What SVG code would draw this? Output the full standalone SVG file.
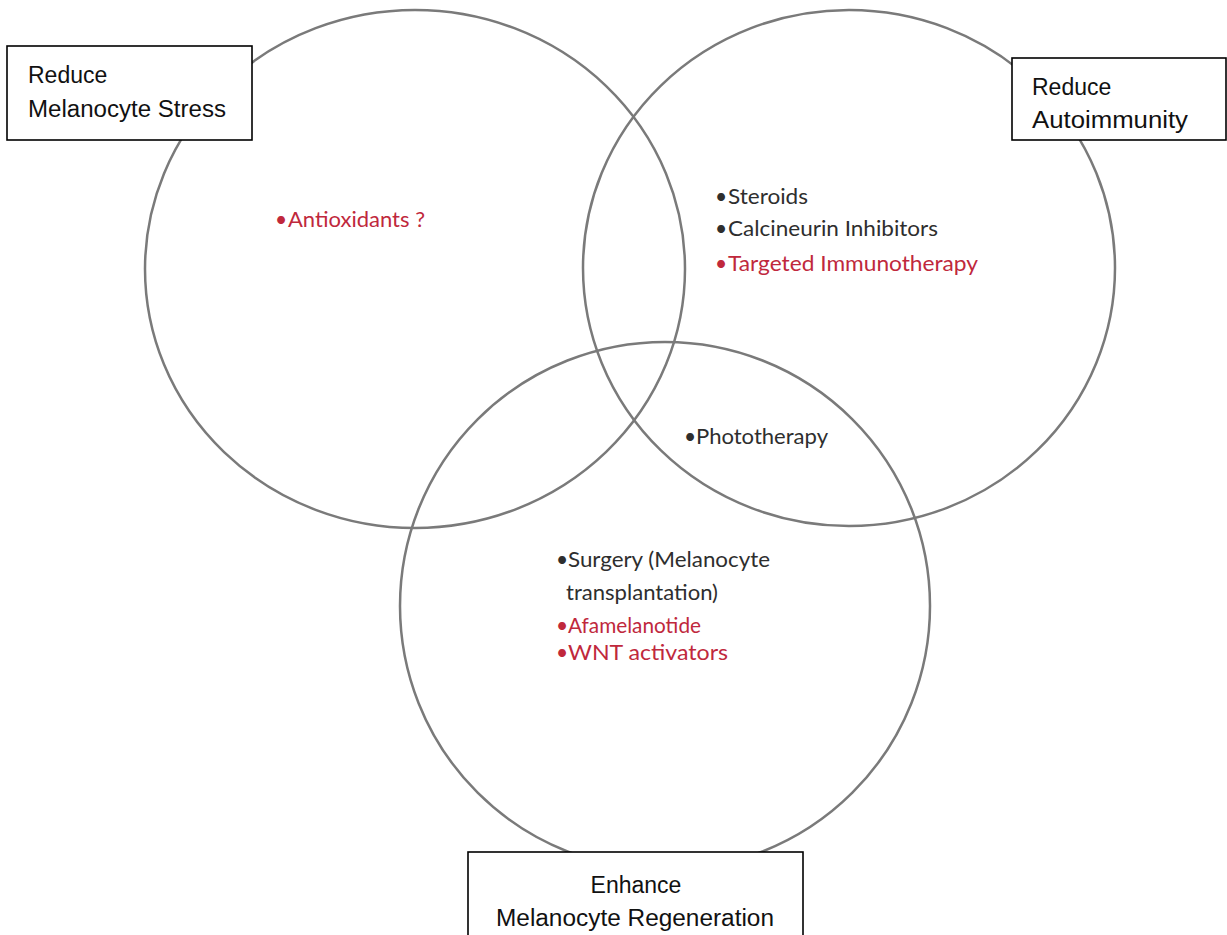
<svg xmlns="http://www.w3.org/2000/svg" width="1227" height="935" viewBox="0 0 1227 935">
<style>
.circ{fill:none;stroke:#7a7a7a;stroke-width:2.5}
.box{fill:#fff;stroke:#000;stroke-width:1.6}
.lbl{font-family:"Liberation Sans",Arial,sans-serif;font-size:23px;fill:#111}
.item{font-family:Lato,"Open Sans",sans-serif;font-size:21px}
.dk{fill:#2e2e2e}
.rd{fill:#c0283c}
</style>
<rect width="1227" height="935" fill="#fff"/>
<g id="connectors"/>
<g id="circle-stress"><ellipse class="circ" cx="415" cy="269" rx="270" ry="259"/></g>
<g id="circle-autoimmunity"><ellipse class="circ" cx="849" cy="268" rx="266" ry="258"/></g>
<g id="circle-regeneration"><ellipse class="circ" cx="665" cy="606" rx="265" ry="264"/></g>
<g id="label-stress">
<rect class="box" x="7" y="46" width="245" height="94"/>
<text class="lbl" x="28" y="83">Reduce</text>
<text class="lbl" x="28" y="117" textLength="198" lengthAdjust="spacingAndGlyphs">Melanocyte Stress</text>
</g>
<g id="label-autoimmunity">
<rect class="box" x="1012" y="58" width="214" height="82"/>
<text class="lbl" x="1032" y="95">Reduce</text>
<text class="lbl" x="1032" y="128" textLength="156" lengthAdjust="spacingAndGlyphs">Autoimmunity</text>
</g>
<g id="label-regeneration">
<rect class="box" x="468" y="852" width="335" height="95"/>
<text class="lbl" x="636" y="893" text-anchor="middle">Enhance</text>
<text class="lbl" x="635" y="926" text-anchor="middle" textLength="278" lengthAdjust="spacingAndGlyphs">Melanocyte Regeneration</text>
</g>
<g id="items-stress">
<text class="item rd" x="275" y="227">•</text>
<text class="item rd" x="288" y="227" textLength="137" lengthAdjust="spacingAndGlyphs">Antioxidants ?</text>
</g>
<g id="items-autoimmunity">
<text class="item dk" x="715" y="204">•</text>
<text class="item dk" x="728" y="204" textLength="80" lengthAdjust="spacingAndGlyphs">Steroids</text>
<text class="item dk" x="715" y="236">•</text>
<text class="item dk" x="728" y="236" textLength="210" lengthAdjust="spacingAndGlyphs">Calcineurin Inhibitors</text>
<text class="item rd" x="715" y="271">•</text>
<text class="item rd" x="728" y="271" textLength="250" lengthAdjust="spacingAndGlyphs">Targeted Immunotherapy</text>
</g>
<g id="items-overlap">
<text class="item dk" x="684" y="444">•</text>
<text class="item dk" x="696" y="444" textLength="132" lengthAdjust="spacingAndGlyphs">Phototherapy</text>
</g>
<g id="items-regeneration">
<text class="item dk" x="556" y="567">•</text>
<text class="item dk" x="568" y="567" textLength="202" lengthAdjust="spacingAndGlyphs">Surgery (Melanocyte</text>
<text class="item dk" x="566" y="600" textLength="152" lengthAdjust="spacingAndGlyphs">transplantation)</text>
<text class="item rd" x="556" y="633">•</text>
<text class="item rd" x="568" y="633" textLength="133" lengthAdjust="spacingAndGlyphs">Afamelanotide</text>
<text class="item rd" x="556" y="660">•</text>
<text class="item rd" x="568" y="660" textLength="160" lengthAdjust="spacingAndGlyphs">WNT activators</text>
</g>
</svg>
